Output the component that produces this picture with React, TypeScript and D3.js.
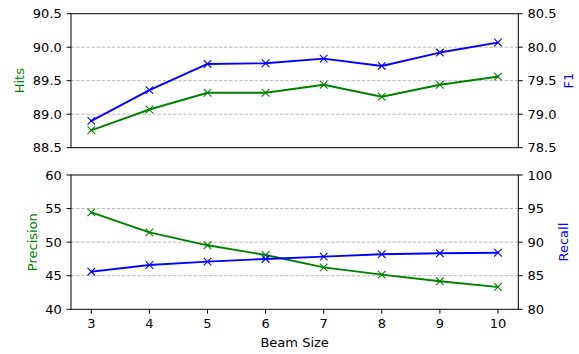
import React from "react";
import * as d3 from "d3";

const beamSizes = [3, 4, 5, 6, 7, 8, 9, 10];
const hits = [88.76, 89.07, 89.32, 89.32, 89.44, 89.26, 89.44, 89.56];
const f1 = [78.9, 79.36, 79.75, 79.76, 79.83, 79.72, 79.92, 80.07];
const precision = [54.44, 51.46, 49.53, 48.09, 46.25, 45.16, 44.17, 43.32];
const recall = [85.6, 86.6, 87.1, 87.5, 87.84, 88.2, 88.34, 88.43];

const hitsTicks = [88.5, 89.0, 89.5, 90.0, 90.5];
const f1Ticks = [78.5, 79.0, 79.5, 80.0, 80.5];
const precTicks = [40, 45, 50, 55, 60];
const recallTicks = [80, 85, 90, 95, 100];

const W = 579;
const H = 354;
const L = 71;
const R = 518.3;
const FONT = "DejaVu Sans, sans-serif";
const FS = 13;
const GREEN = "#008000";
const BLUE = "#0000ff";

const x = d3.scaleLinear().domain([2.65, 10.35]).range([L, R]);

type PanelProps = {
  top: number;
  bottom: number;
  leftDomain: [number, number];
  rightDomain: [number, number];
  leftTicks: number[];
  rightTicks: number[];
  leftFmt: (v: number) => string;
  rightFmt: (v: number) => string;
  leftData: number[];
  rightData: number[];
  leftLabel: string;
  rightLabel: string;
  leftLabelX: number;
  rightLabelX: number;
  showX: boolean;
};

function Series({ data, y, color }: { data: number[]; y: d3.ScaleLinear<number, number>; color: string }) {
  const line = d3
    .line<number>()
    .x((_, i) => x(beamSizes[i]))
    .y((d) => y(d));
  const m = 3.8;
  return (
    <g>
      <path d={line(data) || ""} fill="none" stroke={color} strokeWidth={1.9} strokeLinejoin="round" strokeLinecap="square" />
      {data.map((d, i) => {
        const cx = x(beamSizes[i]);
        const cy = y(d);
        return (
          <path
            key={i}
            d={`M${cx - m},${cy - m}L${cx + m},${cy + m}M${cx - m},${cy + m}L${cx + m},${cy - m}`}
            stroke={color}
            strokeWidth={1.1}
            fill="none"
          />
        );
      })}
    </g>
  );
}

function Panel(p: PanelProps) {
  const yl = d3.scaleLinear().domain(p.leftDomain).range([p.bottom, p.top]);
  const yr = d3.scaleLinear().domain(p.rightDomain).range([p.bottom, p.top]);
  const mid = (p.top + p.bottom) / 2;
  return (
    <g>
      {p.leftTicks.slice(1, -1).map((t) => (
        <line key={"g" + t} x1={L} x2={R} y1={yl(t)} y2={yl(t)} stroke="#b0b0b0" strokeWidth={0.9} strokeDasharray="3.5,1.6" />
      ))}
      <Series data={p.leftData} y={yl} color={GREEN} />
      <Series data={p.rightData} y={yr} color={BLUE} />
      <rect x={L} y={p.top} width={R - L} height={p.bottom - p.top} fill="none" stroke="#000" strokeWidth={1} />
      {p.leftTicks.map((t) => (
        <g key={"l" + t}>
          <line x1={L - 4.4} x2={L} y1={yl(t)} y2={yl(t)} stroke="#000" strokeWidth={1} />
          <text x={L - 9.2} y={yl(t)} dy="0.36em" textAnchor="end" fontSize={FS} fontFamily={FONT} fill="#000">
            {p.leftFmt(t)}
          </text>
        </g>
      ))}
      {p.rightTicks.map((t) => (
        <g key={"r" + t}>
          <line x1={R} x2={R + 4.4} y1={yr(t)} y2={yr(t)} stroke="#000" strokeWidth={1} />
          <text x={R + 9.2} y={yr(t)} dy="0.36em" textAnchor="start" fontSize={FS} fontFamily={FONT} fill="#000">
            {p.rightFmt(t)}
          </text>
        </g>
      ))}
      {p.showX &&
        beamSizes.map((b) => (
          <g key={"x" + b}>
            <line x1={x(b)} x2={x(b)} y1={p.bottom} y2={p.bottom + 4.4} stroke="#000" strokeWidth={1} />
            <text x={x(b)} y={p.bottom + 8.8} dy="0.76em" textAnchor="middle" fontSize={FS} fontFamily={FONT} fill="#000">
              {b}
            </text>
          </g>
        ))}
      <text
        transform={`translate(${p.leftLabelX},${mid}) rotate(-90)`}
        textAnchor="middle"
        dy="0.36em"
        fontSize={FS}
        fontFamily={FONT}
        fill={GREEN}
      >
        {p.leftLabel}
      </text>
      <text
        transform={`translate(${p.rightLabelX},${mid}) rotate(-90)`}
        textAnchor="middle"
        dy="0.36em"
        fontSize={FS}
        fontFamily={FONT}
        fill={BLUE}
      >
        {p.rightLabel}
      </text>
    </g>
  );
}

export default function App() {
  return (
    <svg width={W} height={H} style={{ position: "absolute", left: 0, top: 0, background: "#fff" }}>
      <rect width={W} height={H} fill="#fff" />
      <Panel
        top={13.7}
        bottom={147.7}
        leftDomain={[88.5, 90.5]}
        rightDomain={[78.5, 80.5]}
        leftTicks={hitsTicks}
        rightTicks={f1Ticks}
        leftFmt={d3.format(".1f")}
        rightFmt={d3.format(".1f")}
        leftData={hits}
        rightData={f1}
        leftLabel="Hits"
        rightLabel="F1"
        leftLabelX={19}
        rightLabelX={568}
        showX={false}
      />
      <Panel
        top={175}
        bottom={309.3}
        leftDomain={[40, 60]}
        rightDomain={[80, 100]}
        leftTicks={precTicks}
        rightTicks={recallTicks}
        leftFmt={d3.format("d")}
        rightFmt={d3.format("d")}
        leftData={precision}
        rightData={recall}
        leftLabel="Precision"
        rightLabel="Recall"
        leftLabelX={32}
        rightLabelX={563}
        showX={true}
      />
      <text x={(L + R) / 2} y={342.5} dy="0.36em" textAnchor="middle" fontSize={FS} fontFamily={FONT} fill="#000">
        Beam Size
      </text>
    </svg>
  );
}
